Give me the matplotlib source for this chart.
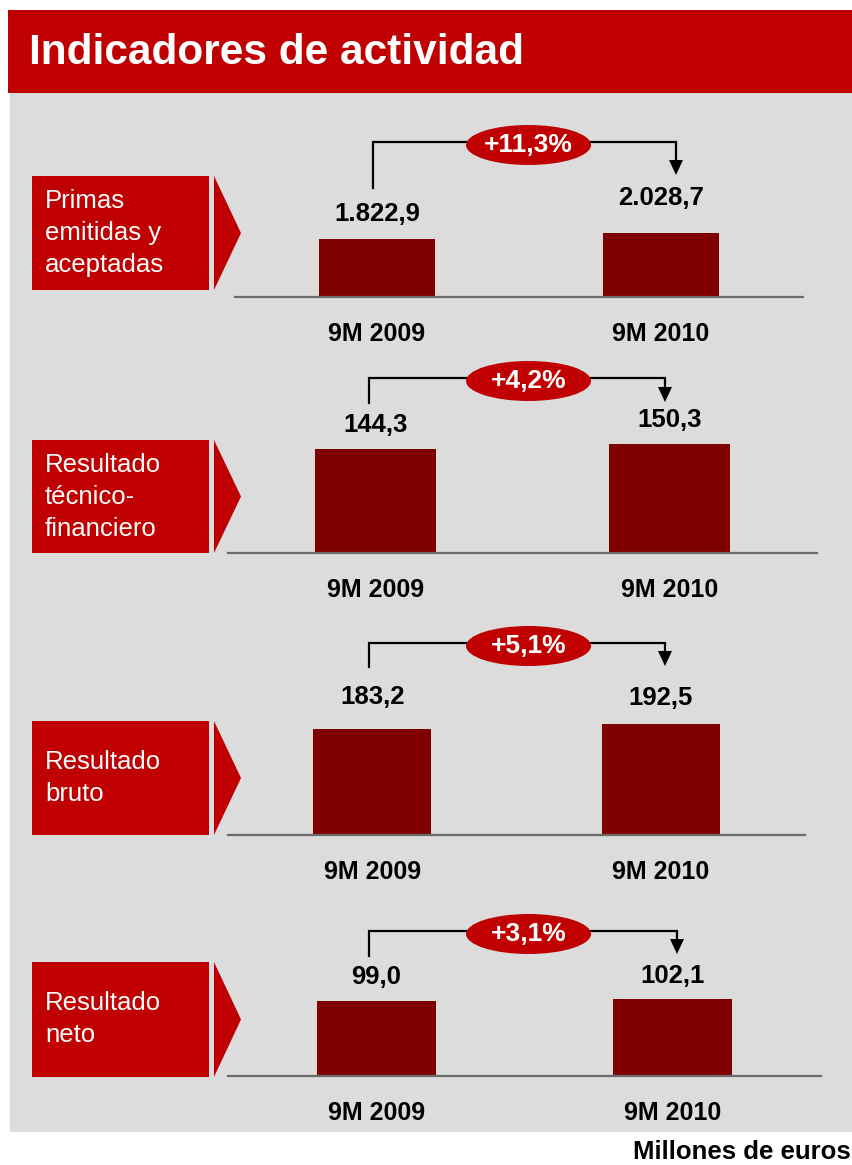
#!/usr/bin/env python3

import matplotlib
matplotlib.use("Agg")
import matplotlib.pyplot as plt
from matplotlib.patches import Rectangle, Polygon, Ellipse

plt.rcParams['font.family'] = ['Liberation Sans', 'DejaVu Sans']

# datos (millones de euros)
titulo = "Indicadores de actividad"
periodos = ["9M 2009", "9M 2010"]
indicadores = ["Primas\nemitidas y\naceptadas",
               "Resultado\ntécnico-\nfinanciero",
               "Resultado\nbruto",
               "Resultado\nneto"]
valores_2009 = [1822.9, 144.3, 183.2, 99.0]
valores_2010 = [2028.7, 150.3, 192.5, 102.1]
unidad = "Millones de euros"

ROJO = '#C00000'
GRANATE = '#800000'
GRIS = '#DCDCDC'
W, H = 852, 1165

# maquetacion de cada panel (en pixeles)
# baseline, x0 linea, x1 linea, px por unidad, caja (top, bottom)
paneles = [
    dict(base=297, x0=235, x1=803, esc=0.03167, caja=(176, 290), anchura=0.405,
         corchete=(373, 676, 142, 188, 175), etiq=(25, 35)),
    dict(base=553, x0=228, x1=817, esc=0.723, caja=(440, 553), anchura=0.41,
         corchete=(369, 665, 378, 403, 402), etiq=(24, 24)),
    dict(base=835, x0=228, x1=805, esc=0.5776, caja=(721, 835), anchura=0.41,
         corchete=(369, 665, 643, 667, 666), etiq=(32, 26)),
    dict(base=1076, x0=228, x1=821, esc=0.756, caja=(962, 1077), anchura=0.40,
         corchete=(369, 677, 931, 956, 954), etiq=(24, 23)),
]


def fmt_es(v):
    s = f"{v:,.1f}"
    return s.replace(",", "X").replace(".", ",").replace("X", ".")


def fmt_pct(a, b):
    p = (b / a - 1) * 100
    return ("+" if p >= 0 else "") + f"{p:.1f}".replace(".", ",") + "%"


def px(n):
    # pixeles -> puntos
    return n * 72 / 100


fig = plt.figure(figsize=(W / 100, H / 100), dpi=100, facecolor='white')

# fondo con coordenadas en pixeles
bg = fig.add_axes([0, 0, 1, 1], zorder=0)
bg.set_xlim(0, W)
bg.set_ylim(H, 0)
bg.axis('off')

bg.add_patch(Rectangle((10, 93), W - 10, 1132 - 93, color=GRIS, lw=0))
bg.add_patch(Rectangle((8, 10), W - 8, 83, color=ROJO, lw=0))
bg.text(29, 53, titulo, color='white', fontsize=30.5, fontweight='bold',
        ha='left', va='center')
bg.text(633, 1152, unidad, color='black', fontsize=18.5, fontweight='bold',
        ha='left', va='center')

for i, p in enumerate(paneles):
    top, bot = p['caja']
    # caja roja con la flecha
    bg.add_patch(Rectangle((32, top), 209 - 32, bot - top, color=ROJO, lw=0))
    bg.add_patch(Polygon([(214, top), (241, (top + bot) / 2), (214, bot)],
                         closed=True, color=ROJO, lw=0))
    lineas = indicadores[i].split("\n")
    centro = (top + bot) / 2
    for k, linea in enumerate(lineas):
        yy = centro + (k - (len(lineas) - 1) / 2) * 32
        bg.text(45, yy, linea, color='white', fontsize=18.5, ha='left', va='center')

    # corchete con la variacion
    xl, xr, yl, yb, ytip = p['corchete']
    bg.plot([xl, xl, xr, xr], [yb, yl, yl, ytip - 12], color='black', lw=1.6,
            solid_joinstyle='miter', zorder=2)
    bg.add_patch(Polygon([(xr - 7, ytip - 15), (xr + 7, ytip - 15), (xr, ytip)],
                         closed=True, color='black', lw=0, zorder=2))
    bg.add_patch(Ellipse((528.5, yl + 3), 125, 40, color=ROJO, lw=0, zorder=3))
    bg.text(528.5, yl + 3, fmt_pct(valores_2009[i], valores_2010[i]), color='white',
            fontsize=19, fontweight='bold', ha='center', va='center', zorder=4)

    # barras
    alto = 150
    ax = fig.add_axes([p['x0'] / W, 1 - p['base'] / H, (p['x1'] - p['x0']) / W, alto / H],
                      zorder=2)
    ax.patch.set_alpha(0)
    vals = [valores_2009[i], valores_2010[i]]
    ax.bar([0, 1], vals, width=p['anchura'], color=GRANATE, zorder=1)
    ax.set_xlim(-0.5, 1.5)
    ax.set_ylim(0, alto / p['esc'])
    for s in ['top', 'left', 'right']:
        ax.spines[s].set_visible(False)
    ax.spines['bottom'].set_color('#6b6b6b')
    ax.spines['bottom'].set_linewidth(1.6)
    ax.spines['bottom'].set_zorder(3)
    ax.set_xticks([])
    ax.set_yticks([])
    for j, v in enumerate(vals):
        ax.annotate(fmt_es(v), (j, v), xytext=(0, px(p['etiq'][j])),
                    textcoords='offset points', ha='center', va='center',
                    fontsize=18.5, fontweight='bold', annotation_clip=False)
        ax.annotate(periodos[j], (j, 0), xytext=(0, -px(37)),
                    textcoords='offset points', ha='center', va='center',
                    fontsize=18, fontweight='bold', annotation_clip=False)

fig.savefig("out.png", dpi=100)
